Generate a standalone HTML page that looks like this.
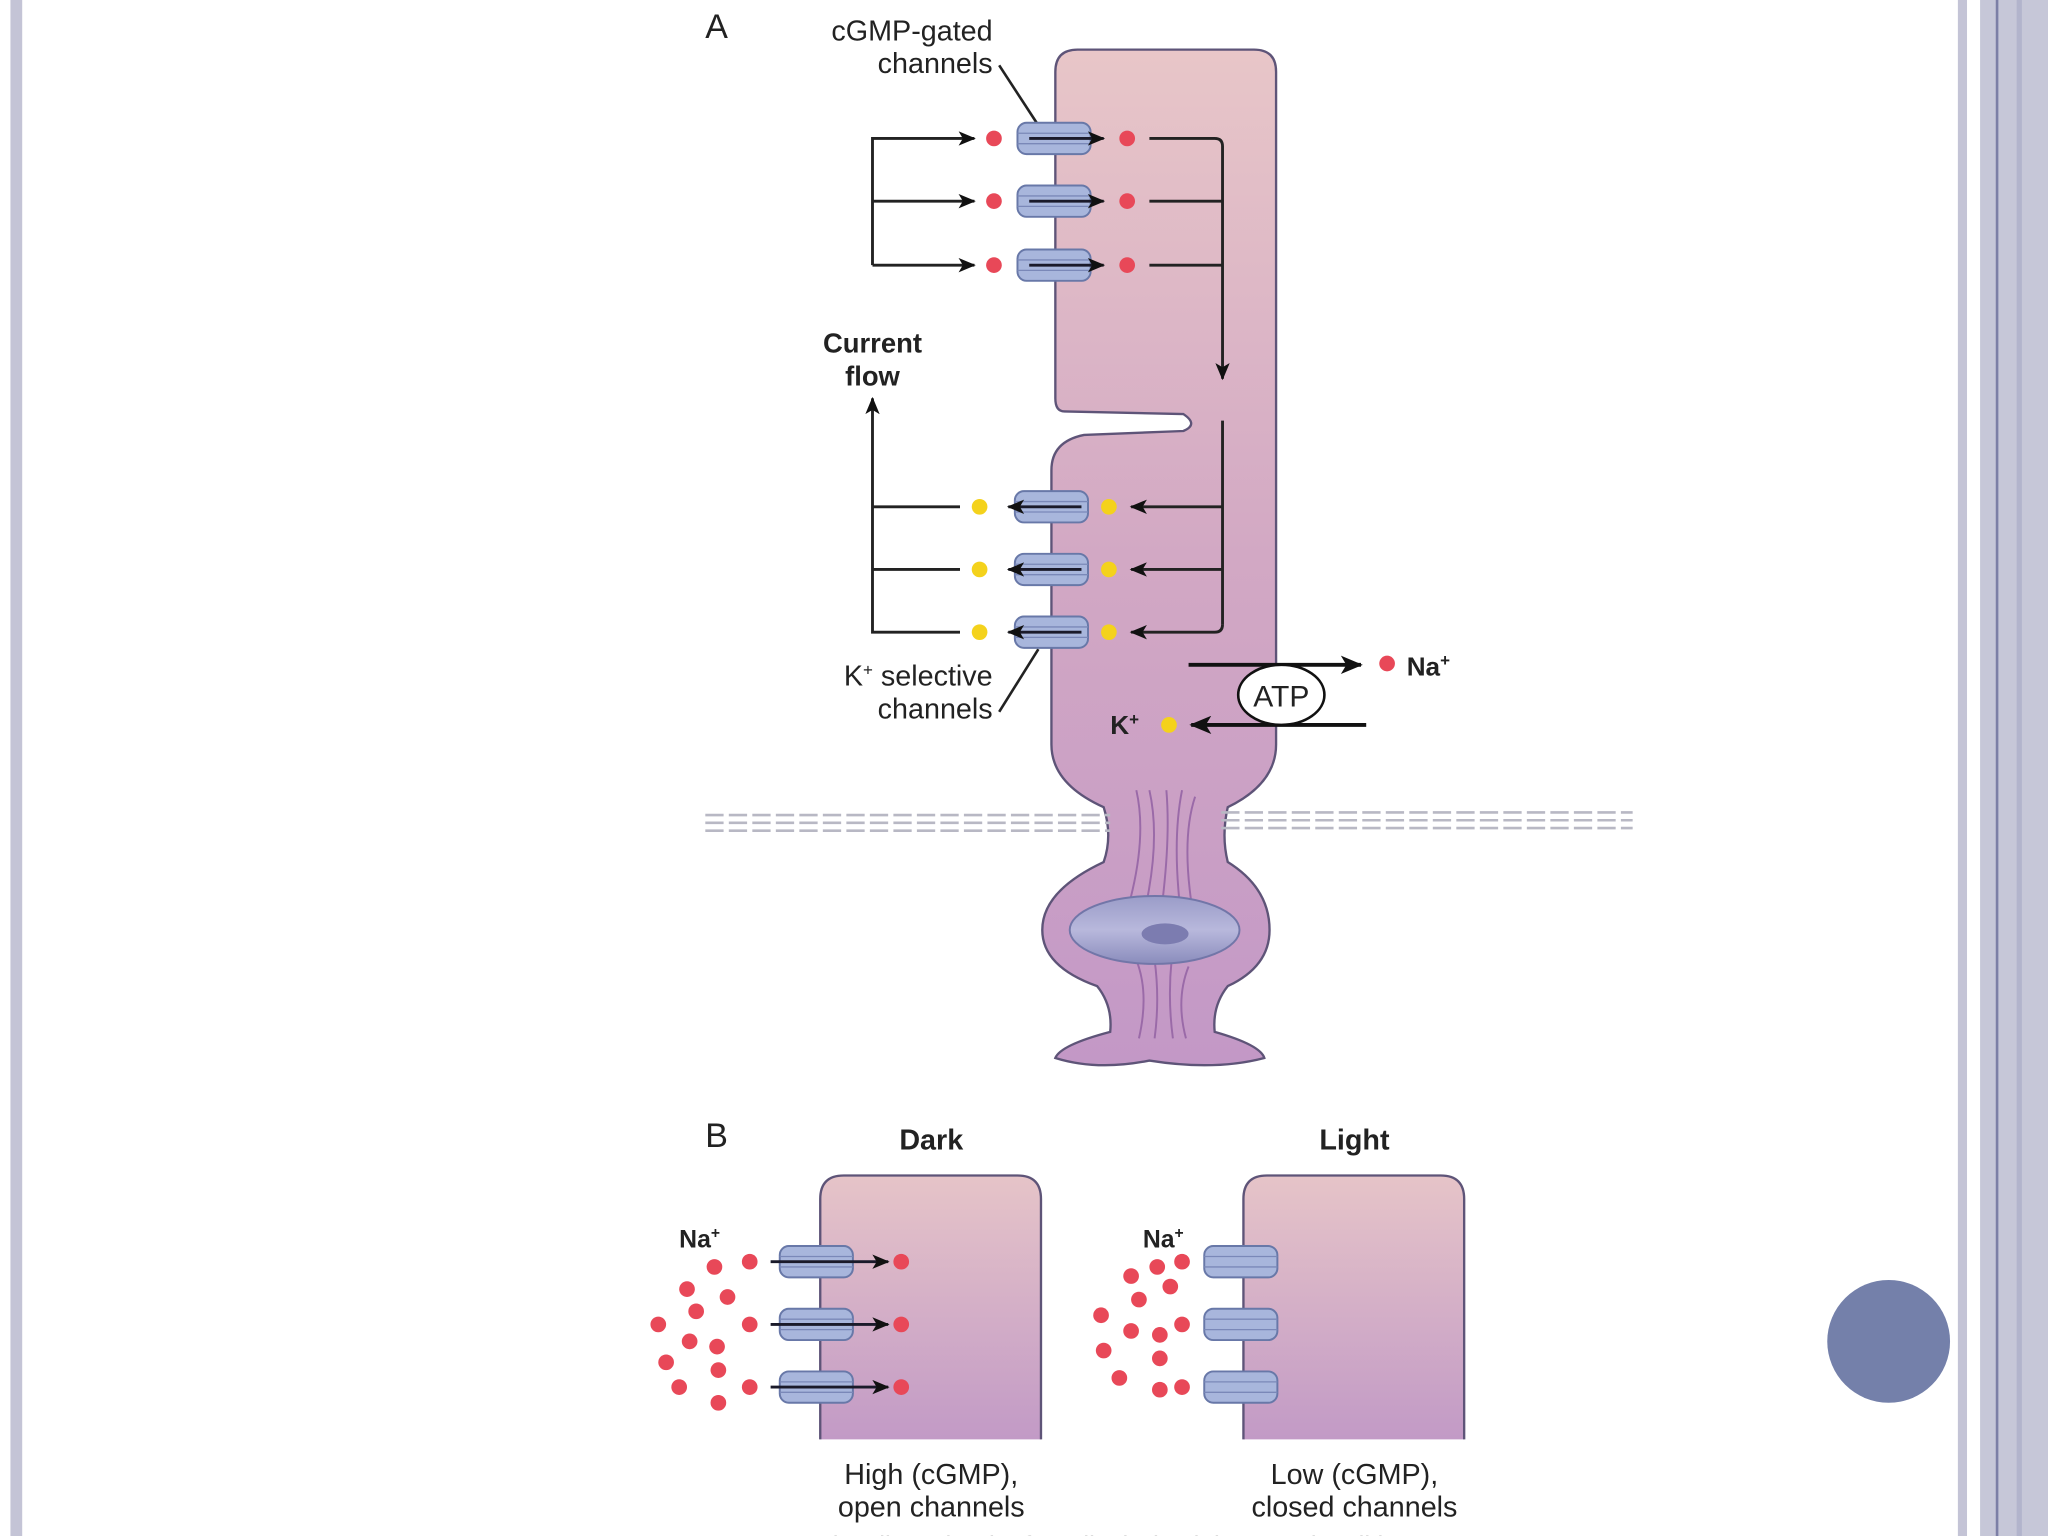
<!DOCTYPE html>
<html><head><meta charset="utf-8"><style>
html,body{margin:0;padding:0;background:#fff;}
svg{display:block;}
text{font-family:"Liberation Sans",sans-serif;fill:#222;}
</style></head><body>
<svg width="2048" height="1536" viewBox="0 0 1568 1176" xmlns="http://www.w3.org/2000/svg">
<defs>
<linearGradient id="g" x1="0" y1="0" x2="0" y2="1">
<stop offset="0" stop-color="#e8c6c8"/><stop offset="0.5" stop-color="#d2a8c4"/><stop offset="1" stop-color="#c398c6"/></linearGradient>
<linearGradient id="gb" x1="0" y1="0" x2="0" y2="1">
<stop offset="0" stop-color="#e6c4c8"/><stop offset="1" stop-color="#c29ac6"/></linearGradient>
<linearGradient id="nuc" x1="0" y1="0" x2="0" y2="1">
<stop offset="0" stop-color="#9a9cc8"/><stop offset="0.5" stop-color="#b8b8dc"/><stop offset="1" stop-color="#8a8cbc"/></linearGradient>
<marker id="ah" viewBox="0 0 12 10" refX="11" refY="5" markerWidth="15" markerHeight="11" markerUnits="userSpaceOnUse" orient="auto"><path d="M0,0 L12,5 L0,10 L3,5z" fill="#111"/></marker>
<marker id="ahb" viewBox="0 0 12 10" refX="11" refY="5" markerWidth="20" markerHeight="14" markerUnits="userSpaceOnUse" orient="auto"><path d="M0,0 L12,5 L0,10 L3,5z" fill="#111"/></marker>
<g id="ch"><rect x="-28" y="-12" width="56" height="24" rx="7" fill="#a8b6dc" stroke="#6878a8" stroke-width="1.5"/><line x1="-28" y1="-4" x2="28" y2="-4" stroke="#7a88b8" stroke-width="1"/><line x1="-28" y1="4" x2="28" y2="4" stroke="#7a88b8" stroke-width="1"/></g>
</defs>
<rect x="8" y="0" width="9" height="1176" fill="#c4c4d6"/>
<rect x="1499" y="0" width="7" height="1176" fill="#c4c4d6"/>
<rect x="1516" y="0" width="52" height="1176" fill="#c6c7d8"/>
<rect x="1528" y="0" width="2" height="1176" fill="#7c7fa6"/>
<rect x="1544" y="0" width="4" height="1176" fill="#b2b4cc"/>
<circle cx="1446" cy="1027" r="47" fill="#7480aa"/>

<path d="M808,55 Q808,38 825,38 L960,38 Q977,38 977,55 L977,570 Q977,600 940,618 Q935,640 940,660 Q972,680 972,712 Q972,740 940,755 Q928,770 930,790 Q965,800 968,810 Q930,820 880,812 Q840,820 808,810 Q812,800 850,790 Q852,770 840,755 Q798,740 798,712 Q798,682 845,660 Q852,640 845,618 Q805,600 805,570 L805,360 Q805,338 830,333 L906,330 Q918,325 906,317 L815,315 Q808,315 808,305 Z" fill="url(#g)" stroke="#5e5478" stroke-width="1.8"/>
<g stroke="#9a6aa8" stroke-width="1.5" fill="none">
<path d="M870,605 Q878,640 865,690"/><path d="M880,605 Q888,640 878,690"/><path d="M893,605 Q896,640 890,690"/><path d="M905,605 Q898,640 903,690"/><path d="M915,610 Q905,640 912,690"/>
<path d="M870,735 Q880,760 872,795"/><path d="M884,735 Q888,765 884,795"/><path d="M897,735 Q894,765 898,795"/><path d="M910,740 Q900,765 908,795"/>
</g>
<ellipse cx="884" cy="712" rx="65" ry="26" fill="url(#nuc)" stroke="#7276a8" stroke-width="1.5"/>
<ellipse cx="892" cy="715" rx="18" ry="8" fill="#7c7cb0"/>
<g stroke="#b8b8c4" stroke-width="2" stroke-dasharray="14,4">
<line x1="540" y1="624" x2="850" y2="624"/><line x1="540" y1="630" x2="850" y2="630"/><line x1="540" y1="636" x2="850" y2="636"/>
<line x1="935" y1="622" x2="1250" y2="622"/><line x1="935" y1="628" x2="1250" y2="628"/><line x1="935" y1="634" x2="1250" y2="634"/>
</g>

<g stroke="#222" stroke-width="2.2" fill="none">
<path d="M668,203 L668,106 L746,106" marker-end="url(#ah)"/>
<line x1="668" y1="154" x2="746" y2="154" marker-end="url(#ah)"/>
<line x1="668" y1="203" x2="746" y2="203" marker-end="url(#ah)"/>
<path d="M880,106 L930,106 Q936,106 936,112 L936,290" marker-end="url(#ah)"/>
<line x1="880" y1="154" x2="936" y2="154"/><line x1="880" y1="203" x2="936" y2="203"/>
<line x1="936" y1="322" x2="936" y2="478"/>
<line x1="936" y1="388" x2="866" y2="388" marker-end="url(#ah)"/>
<line x1="936" y1="436" x2="866" y2="436" marker-end="url(#ah)"/>
<path d="M936,478 Q936,484 930,484 L866,484" marker-end="url(#ah)"/>
<path d="M735,484 L668,484 L668,305" marker-end="url(#ah)"/>
<line x1="668" y1="388" x2="735" y2="388"/><line x1="668" y1="436" x2="735" y2="436"/>
<line x1="765" y1="50" x2="795" y2="96" stroke-width="2"/>
<line x1="765" y1="545" x2="795" y2="497" stroke-width="2"/>
</g>
<use href="#ch" x="807" y="106"/><use href="#ch" x="807" y="154"/><use href="#ch" x="807" y="203"/>
<use href="#ch" x="805" y="388"/><use href="#ch" x="805" y="436"/><use href="#ch" x="805" y="484"/>
<g stroke="#1a1a2a" stroke-width="2.2">
<line x1="788" y1="106" x2="845" y2="106" marker-end="url(#ah)"/>
<line x1="788" y1="154" x2="845" y2="154" marker-end="url(#ah)"/>
<line x1="788" y1="203" x2="845" y2="203" marker-end="url(#ah)"/>
<line x1="828" y1="388" x2="772" y2="388" marker-end="url(#ah)"/>
<line x1="828" y1="436" x2="772" y2="436" marker-end="url(#ah)"/>
<line x1="828" y1="484" x2="772" y2="484" marker-end="url(#ah)"/>
</g>
<g fill="#e84858">
<circle cx="761" cy="106" r="6"/><circle cx="863" cy="106" r="6"/>
<circle cx="761" cy="154" r="6"/><circle cx="863" cy="154" r="6"/>
<circle cx="761" cy="203" r="6"/><circle cx="863" cy="203" r="6"/>
<circle cx="1062" cy="508" r="6"/>
</g>
<g fill="#f4d21c">
<circle cx="750" cy="388" r="6"/><circle cx="849" cy="388" r="6"/>
<circle cx="750" cy="436" r="6"/><circle cx="849" cy="436" r="6"/>
<circle cx="750" cy="484" r="6"/><circle cx="849" cy="484" r="6"/>
<circle cx="895" cy="555" r="6"/>
</g>
<line x1="910" y1="509" x2="1042" y2="509" stroke="#111" stroke-width="3" marker-end="url(#ahb)"/>
<line x1="1046" y1="555" x2="912" y2="555" stroke="#111" stroke-width="3" marker-end="url(#ahb)"/>
<ellipse cx="981" cy="532" rx="33" ry="23" fill="#fff" stroke="#111" stroke-width="2"/>
<text x="981" y="541" font-size="23" text-anchor="middle">ATP</text>
<text x="1077" y="517" font-size="20" font-weight="bold">Na<tspan font-size="13" dy="-7">+</tspan></text>
<text x="850" y="562" font-size="20" font-weight="bold">K<tspan font-size="13" dy="-7">+</tspan></text>

<text x="540" y="29" font-size="26">A</text>
<text x="760" y="31" font-size="22" text-anchor="end">cGMP-gated</text>
<text x="760" y="56" font-size="22" text-anchor="end">channels</text>
<text x="668" y="270" font-size="21" font-weight="bold" text-anchor="middle">Current</text>
<text x="668" y="295" font-size="21" font-weight="bold" text-anchor="middle">flow</text>
<text x="760" y="525" font-size="22" text-anchor="end">K<tspan font-size="13" dy="-8">+</tspan><tspan dy="8"> selective</tspan></text>
<text x="760" y="550" font-size="22" text-anchor="end">channels</text>

<text x="540" y="878" font-size="26">B</text>
<text x="713" y="880" font-size="22" font-weight="bold" text-anchor="middle">Dark</text>
<text x="1037" y="880" font-size="22" font-weight="bold" text-anchor="middle">Light</text>
<path d="M628,1102 L628,918 Q628,900 646,900 L779,900 Q797,900 797,918 L797,1102" fill="url(#gb)" stroke="#5e5478" stroke-width="1.8"/>
<path d="M952,1102 L952,918 Q952,900 970,900 L1103,900 Q1121,900 1121,918 L1121,1102" fill="url(#gb)" stroke="#5e5478" stroke-width="1.8"/>
<use href="#ch" x="625" y="966"/><use href="#ch" x="625" y="1014"/><use href="#ch" x="625" y="1062"/>
<use href="#ch" x="950" y="966"/><use href="#ch" x="950" y="1014"/><use href="#ch" x="950" y="1062"/>
<g stroke="#1a1a2a" stroke-width="2.2">
<line x1="590" y1="966" x2="680" y2="966" marker-end="url(#ah)"/>
<line x1="590" y1="1014" x2="680" y2="1014" marker-end="url(#ah)"/>
<line x1="590" y1="1062" x2="680" y2="1062" marker-end="url(#ah)"/>
</g>
<g fill="#e84858">
<circle cx="690" cy="966" r="6"/><circle cx="690" cy="1014" r="6"/><circle cx="690" cy="1062" r="6"/>
<circle cx="574" cy="966" r="6"/><circle cx="547" cy="970" r="6"/><circle cx="526" cy="987" r="6"/><circle cx="557" cy="993" r="6"/><circle cx="533" cy="1004" r="6"/>
<circle cx="504" cy="1014" r="6"/><circle cx="574" cy="1014" r="6"/><circle cx="528" cy="1027" r="6"/><circle cx="549" cy="1031" r="6"/><circle cx="510" cy="1043" r="6"/><circle cx="550" cy="1049" r="6"/>
<circle cx="520" cy="1062" r="6"/><circle cx="574" cy="1062" r="6"/><circle cx="550" cy="1074" r="6"/>
<circle cx="905" cy="966" r="6"/><circle cx="886" cy="970" r="6"/><circle cx="866" cy="977" r="6"/><circle cx="896" cy="985" r="6"/><circle cx="872" cy="995" r="6"/>
<circle cx="843" cy="1007" r="6"/><circle cx="905" cy="1014" r="6"/><circle cx="866" cy="1019" r="6"/><circle cx="888" cy="1022" r="6"/><circle cx="845" cy="1034" r="6"/><circle cx="888" cy="1040" r="6"/>
<circle cx="857" cy="1055" r="6"/><circle cx="888" cy="1064" r="6"/><circle cx="905" cy="1062" r="6"/>
</g>
<text x="520" y="955" font-size="19" font-weight="bold">Na<tspan font-size="12" dy="-7">+</tspan></text>
<text x="875" y="955" font-size="19" font-weight="bold">Na<tspan font-size="12" dy="-7">+</tspan></text>
<text x="713" y="1136" font-size="22" text-anchor="middle">High (cGMP),</text>
<text x="713" y="1161" font-size="22" text-anchor="middle">open channels</text>
<text x="1037" y="1136" font-size="22" text-anchor="middle">Low (cGMP),</text>
<text x="1037" y="1161" font-size="22" text-anchor="middle">closed channels</text>
<text x="810" y="1190" font-size="20" text-anchor="middle" style="fill:#bbb">Guyton and Hall Textbook of Medical Physiology, 12th Edition</text>
</svg>
</body></html>
